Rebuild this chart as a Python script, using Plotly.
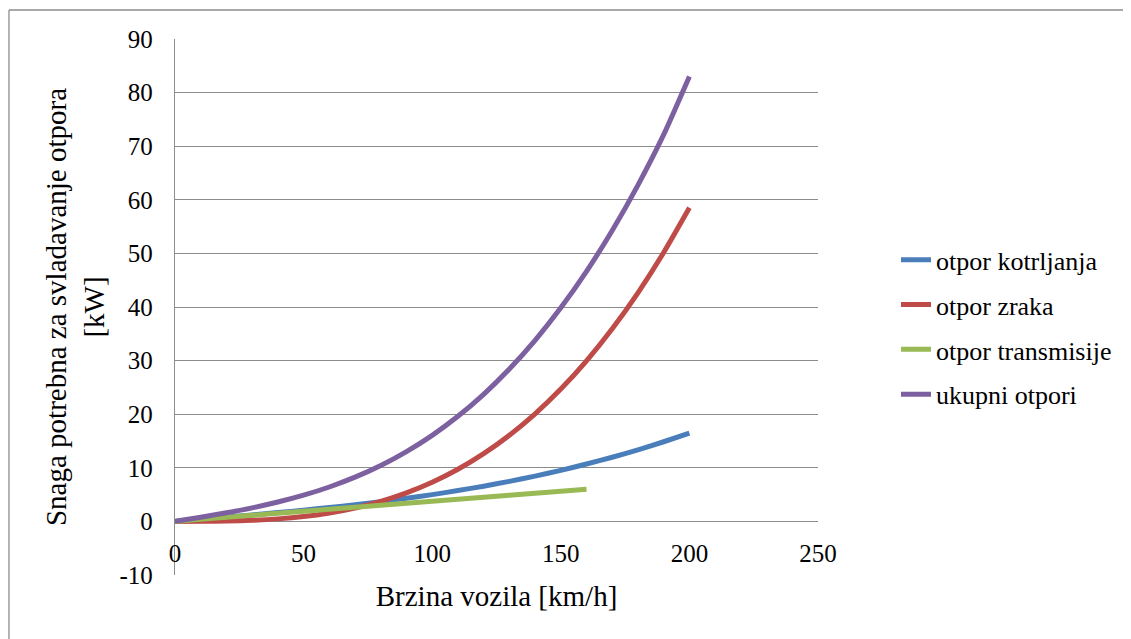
import plotly.graph_objects as go

speed = [0, 10, 20, 30, 40, 50, 60, 70, 80, 90, 100, 110, 120, 130, 140, 150, 160, 170, 180, 190, 200]
speed_trans = [0, 10, 20, 30, 40, 50, 60, 70, 80, 90, 100, 110, 120, 130, 140, 150, 160]

otpor_kotrljanja = [0, 0.39, 0.79, 1.21, 1.64, 2.10, 2.59, 3.11, 3.69, 4.32, 5.00, 5.75, 6.57,
                    7.47, 8.45, 9.53, 10.70, 11.97, 13.35, 14.86, 16.48]
otpor_zraka = [0, 0.01, 0.06, 0.20, 0.47, 0.91, 1.58, 2.51, 3.74, 5.33, 7.31, 9.73, 12.64,
               16.07, 20.07, 24.68, 29.95, 35.93, 42.65, 50.16, 58.50]
otpor_transmisije = [0, 0.38, 0.75, 1.13, 1.50, 1.88, 2.25, 2.63, 3.00, 3.38, 3.75, 4.13, 4.50,
                     4.88, 5.25, 5.63, 6.00]
ukupni_otpori = [0, 0.77, 1.60, 2.53, 3.61, 4.89, 6.42, 8.25, 10.43, 13.03, 16.06, 19.61, 23.71,
                 28.42, 33.77, 39.84, 46.65, 54.28, 62.75, 72.15, 83.0]

names = ["otpor kotrljanja", "otpor zraka", "otpor transmisije", "ukupni otpori"]
colors = ["#4A7EBB", "#BE4B48", "#98B954", "#7D60A0"]

x_ticks = [0, 50, 100, 150, 200, 250]
y_ticks = [-10, 0, 10, 20, 30, 40, 50, 60, 70, 80, 90]
y_tick_labels = ["-10", "0", "10", "20", "30", "40", "50", "60", "70", "80", "90"]

FONT = "Liberation Serif"

fig = go.Figure()
series = [(speed, otpor_kotrljanja), (speed, otpor_zraka), (speed_trans, otpor_transmisije), (speed, ukupni_otpori)]
for i, ((xs, ys), name, col) in enumerate(zip(series, names, colors)):
    fig.add_trace(go.Scatter(
        x=xs, y=ys, mode="lines", name=name, legendgroup=f"g{i}",
        line=dict(color=col, width=5, shape="spline", smoothing=0.6),
    ))

grid = "#8C8C8C"
fig.update_layout(
    width=1123, height=631,
    margin=dict(l=167, r=313, t=31, b=64),
    paper_bgcolor="white", plot_bgcolor="white",
    font=dict(family=FONT, size=25, color="black"),
    showlegend=True,
    legend=dict(x=1.1213, y=0.462, xanchor="left", yanchor="middle",
                font=dict(family=FONT, size=26, color="black"),
                tracegroupgap=8, bgcolor="rgba(0,0,0,0)"),
    xaxis=dict(range=[0, 250], tickvals=x_ticks, showgrid=False, zeroline=False,
               showline=False, ticks="", anchor="free", position=0.1,
               ticklabelstandoff=15, tickfont=dict(family=FONT, size=25),
               title=dict(text="Brzina vozila [km/h]", standoff=19,
                          font=dict(family=FONT, size=29))),
    yaxis=dict(range=[-10, 90], tickvals=y_ticks, ticktext=y_tick_labels,
               showgrid=True, gridcolor=grid, gridwidth=1.3,
               zeroline=False, showline=True, linecolor=grid, linewidth=1.3, ticks="",
               ticklabelstandoff=16, tickfont=dict(family=FONT, size=25),
               title=dict(text="Snaga potrebna za svladavanje otpora<br>[kW]", standoff=6,
                          font=dict(family=FONT, size=29))),
    shapes=[
        dict(type="line", xref="paper", yref="paper", x0=-0.2582, x1=1.6, y0=1.0541, y1=1.0541,
             line=dict(color="#8C8C8C", width=1.3)),
        dict(type="line", xref="paper", yref="paper", x0=-0.2582, x1=-0.2582, y0=1.0541, y1=-0.2,
             line=dict(color="#8C8C8C", width=1.3)),
    ],
)

fig.write_html("out.html")
